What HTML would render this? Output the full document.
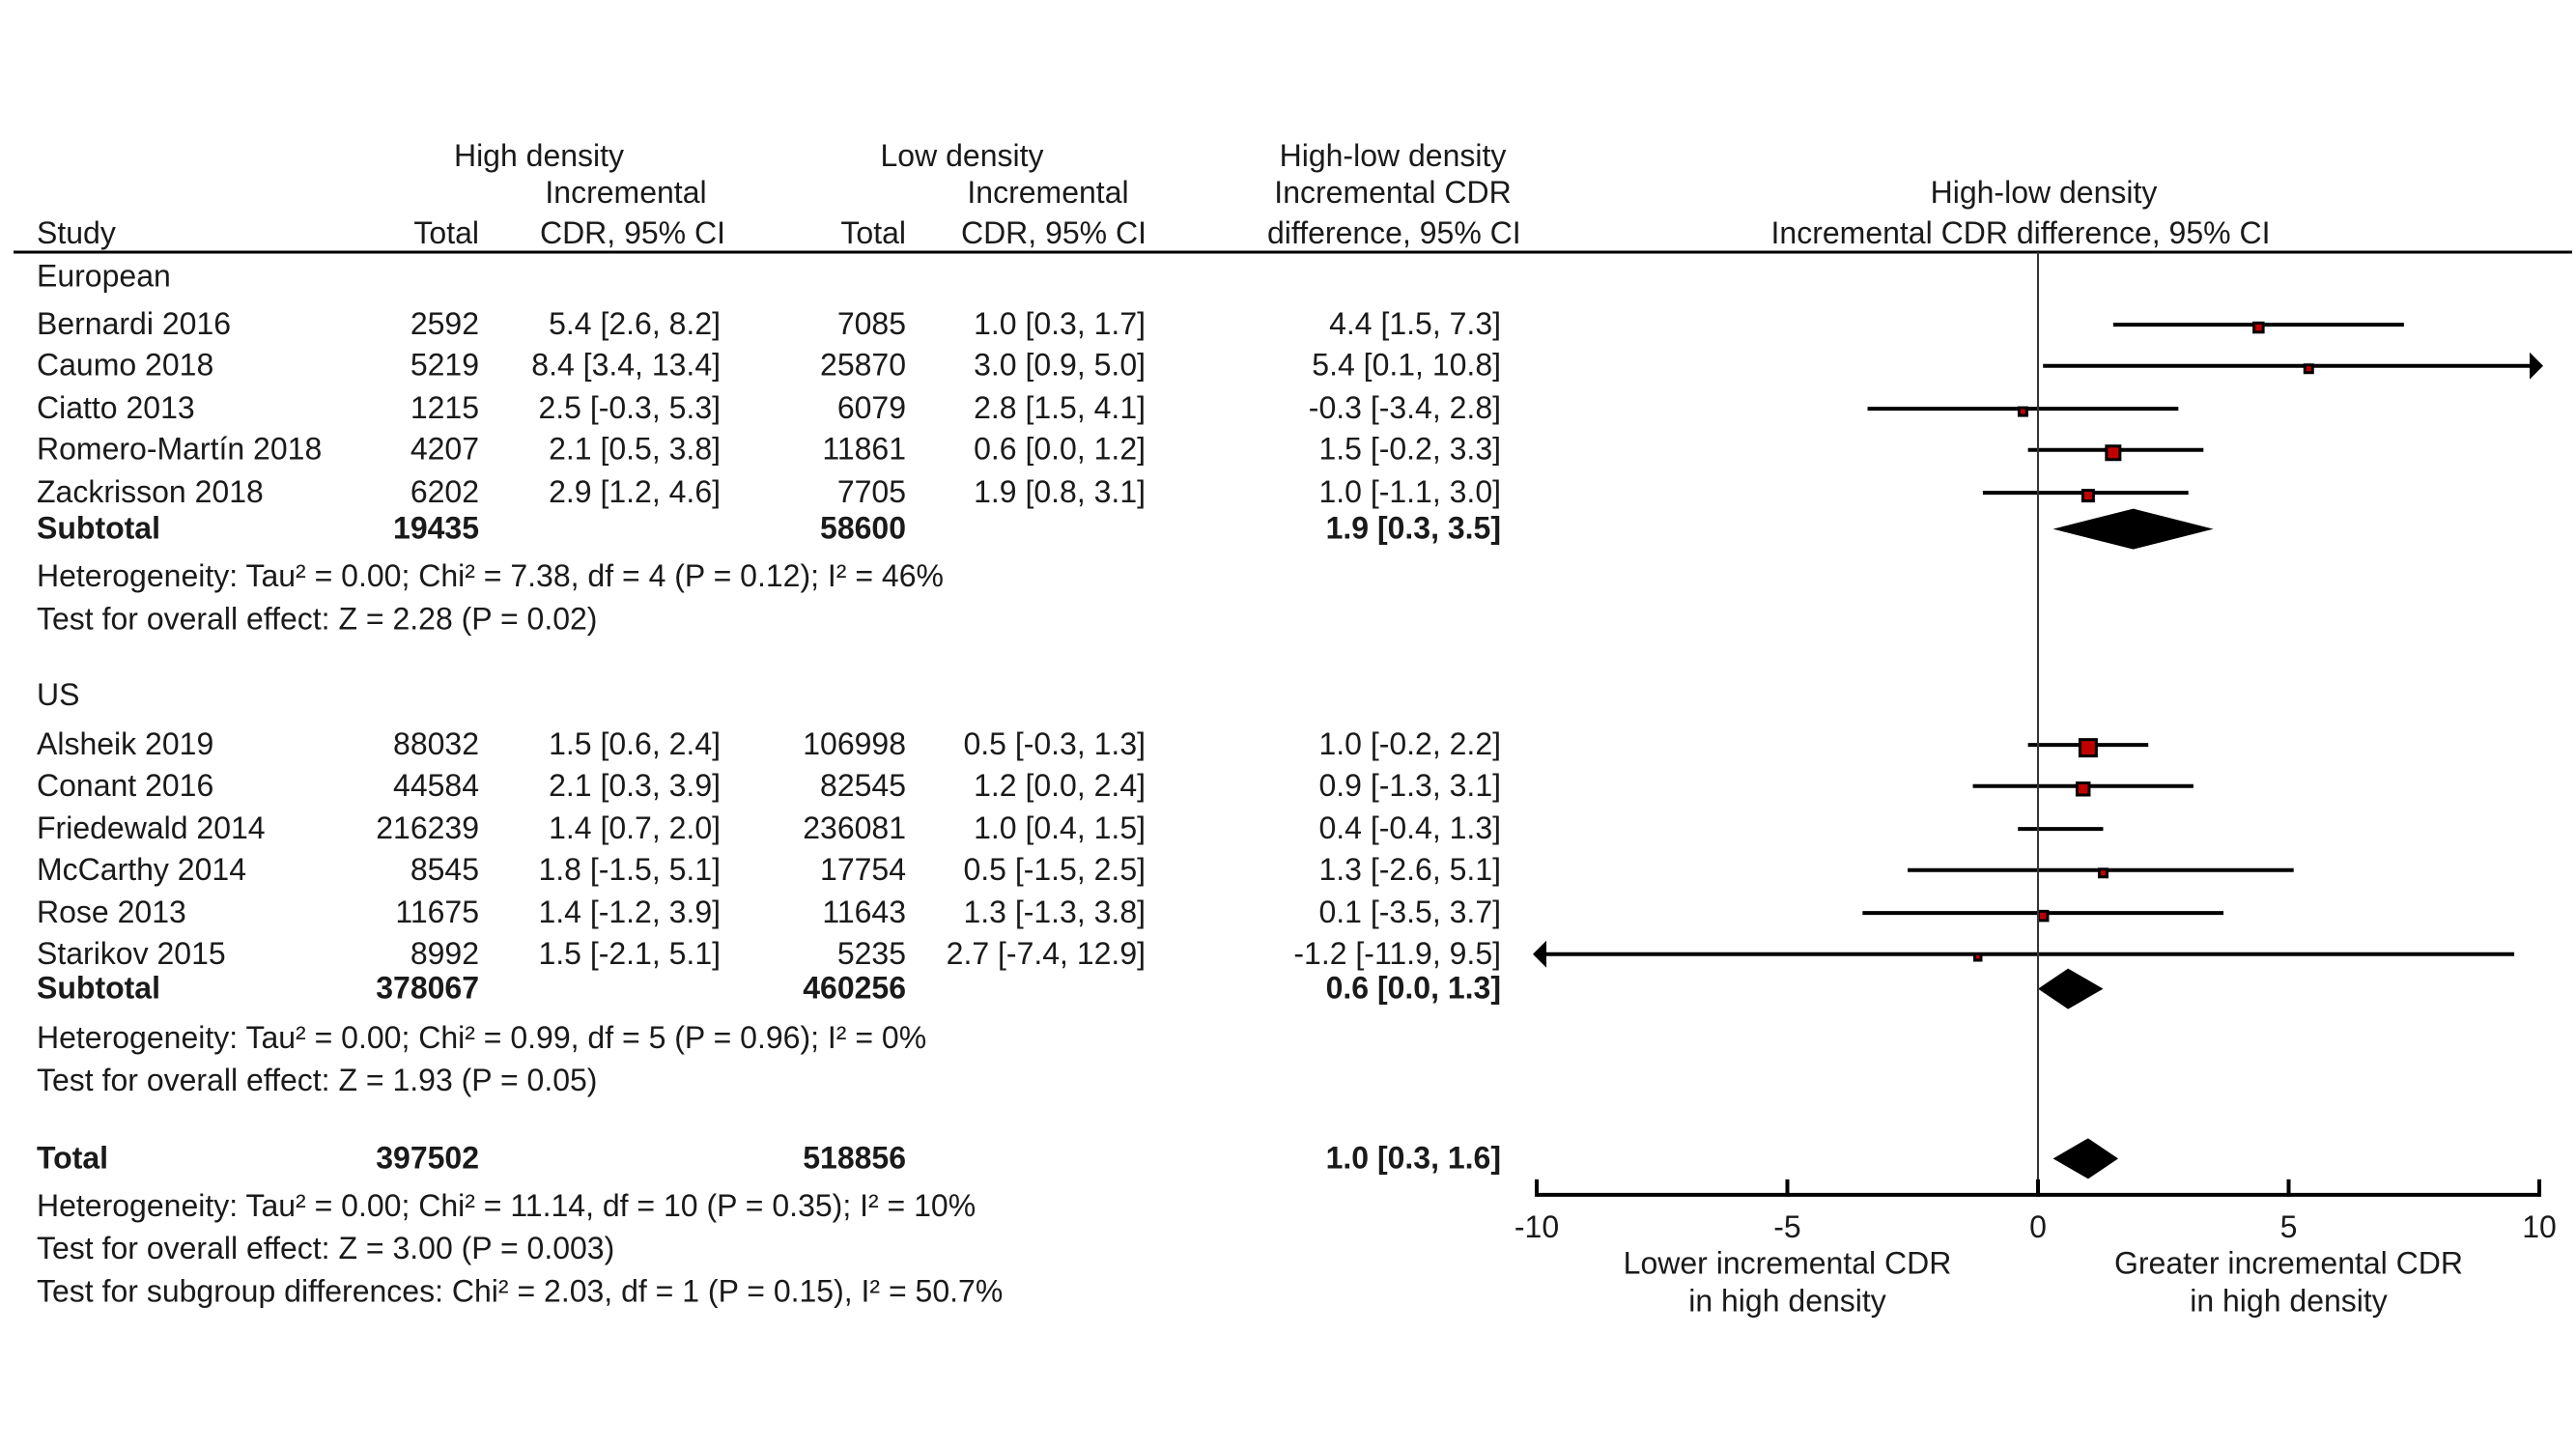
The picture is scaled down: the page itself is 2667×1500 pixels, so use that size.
<!DOCTYPE html>
<html><head><meta charset="utf-8"><style>
html,body{margin:0;padding:0;background:#fff;}
svg{display:block;}
text{font-family:"Liberation Sans",Arial,sans-serif;font-size:32px;fill:#1a1a1a;}
.b{font-weight:bold;}
</style></head><body>
<svg id="chart" width="2667" height="1500" viewBox="0 0 2667 1500" xmlns="http://www.w3.org/2000/svg">
<g>
<text x="558" y="172" text-anchor="middle">High density</text>
<text x="648" y="210" text-anchor="middle">Incremental</text>
<text x="751" y="252" text-anchor="end">CDR, 95% CI</text>
<text x="996" y="172" text-anchor="middle">Low density</text>
<text x="1085" y="210" text-anchor="middle">Incremental</text>
<text x="1187" y="252" text-anchor="end">CDR, 95% CI</text>
<text x="1442" y="172" text-anchor="middle">High-low density</text>
<text x="1442" y="210" text-anchor="middle">Incremental CDR</text>
<text x="1312" y="252">difference, 95% CI</text>
<text x="38" y="252">Study</text>
<text x="496" y="252" text-anchor="end">Total</text>
<text x="938" y="252" text-anchor="end">Total</text>
<text x="2116" y="210" text-anchor="middle">High-low density</text>
<text x="2092" y="252" text-anchor="middle">Incremental CDR difference, 95% CI</text>
</g>
<line x1="14" y1="261" x2="2663" y2="261" stroke="#000" stroke-width="3"/>
<g id="table"></g>
<g id="plot"></g>
</svg>
<script>
// Study rows data
const studies = ["Bernardi 2016","Caumo 2018","Ciatto 2013","Romero-Martín 2018","Zackrisson 2018","Alsheik 2019","Conant 2016","Friedewald 2014","McCarthy 2014","Rose 2013","Starikov 2015"];
const highTotals = ["2592","5219","1215","4207","6202","88032","44584","216239","8545","11675","8992"];
const highCdr = ["5.4 [2.6, 8.2]","8.4 [3.4, 13.4]","2.5 [-0.3, 5.3]","2.1 [0.5, 3.8]","2.9 [1.2, 4.6]","1.5 [0.6, 2.4]","2.1 [0.3, 3.9]","1.4 [0.7, 2.0]","1.8 [-1.5, 5.1]","1.4 [-1.2, 3.9]","1.5 [-2.1, 5.1]"];
const lowTotals = ["7085","25870","6079","11861","7705","106998","82545","236081","17754","11643","5235"];
const lowCdr = ["1.0 [0.3, 1.7]","3.0 [0.9, 5.0]","2.8 [1.5, 4.1]","0.6 [0.0, 1.2]","1.9 [0.8, 3.1]","0.5 [-0.3, 1.3]","1.2 [0.0, 2.4]","1.0 [0.4, 1.5]","0.5 [-1.5, 2.5]","1.3 [-1.3, 3.8]","2.7 [-7.4, 12.9]"];
const est = [4.4,5.4,-0.3,1.5,1.0,1.0,0.9,0.4,1.3,0.1,-1.2];
const lower = [1.5,0.1,-3.4,-0.2,-1.1,-0.2,-1.3,-0.4,-2.6,-3.5,-11.9];
const upper = [7.3,10.8,2.8,3.3,3.0,2.2,3.1,1.3,5.1,3.7,9.5];
const weights = [5,4,4,8,6,10,7,0,4,5,3];
// row positions (reference row index units)
const studyRows = [197,222,248,273,299,452,477,503,528,554,579];
// pooled
const pooledNames = ["Subtotal","Subtotal","Total"];
const pooledHigh = ["19435","378067","397502"];
const pooledLow = ["58600","460256","518856"];
const pooledEst = [1.9,0.6,1.0];
const pooledLower = [0.3,0.0,0.3];
const pooledUpper = [3.5,1.3,1.6];
const pooledRows = [321,600,703];
const xTicks = [-10,-5,0,5,10];

const NS="http://www.w3.org/2000/svg";
const S=1.706;
const X0=2110, PX=51.9;
function xs(v){return X0+v*PX;}
function ys(r){return r*S;}
function fmt(a,b,c){return a.toFixed(1)+" ["+b.toFixed(1)+", "+c.toFixed(1)+"]";}
const table=document.getElementById('table');
const plot=document.getElementById('plot');
function txt(parent,x,y,s,anchor,cls){
  const t=document.createElementNS(NS,'text');
  t.setAttribute('x',x);t.setAttribute('y',y);
  if(anchor)t.setAttribute('text-anchor',anchor);
  if(cls)t.setAttribute('class',cls);
  t.textContent=s;parent.appendChild(t);return t;
}
function el(parent,tag,attrs){
  const e=document.createElementNS(NS,tag);
  for(const k in attrs)e.setAttribute(k,attrs[k]);
  parent.appendChild(e);return e;
}
const notes=[["European",168],["Heterogeneity: Tau² = 0.00; Chi² = 7.38, df = 4 (P = 0.12); I² = 46%",350],["Test for overall effect: Z = 2.28 (P = 0.02)",376],["US",422],["Heterogeneity: Tau² = 0.00; Chi² = 0.99, df = 5 (P = 0.96); I² = 0%",630],["Test for overall effect: Z = 1.93 (P = 0.05)",656],["Heterogeneity: Tau² = 0.00; Chi² = 11.14, df = 10 (P = 0.35); I² = 10%",732],["Test for overall effect: Z = 3.00 (P = 0.003)",758],["Test for subgroup differences: Chi² = 2.03, df = 1 (P = 0.15), I² = 50.7%",784]];
notes.forEach(n=>{
  const t=txt(table,38,ys(n[1])+10,n[0]);
  
  
});
studies.forEach((s,i)=>{
  const y=ys(studyRows[i])+10;
  const g=el(table,'g',{});
  
  
  txt(g,38,y,s);
  txt(g,496,y,highTotals[i],'end');
  txt(g,746,y,highCdr[i],'end');
  txt(g,938,y,lowTotals[i],'end');
  txt(g,1186,y,lowCdr[i],'end');
  txt(g,1554,y,fmt(est[i],lower[i],upper[i]),'end');
  const yc=ys(studyRows[i]);
  const lo=Math.max(lower[i],-10), hi=Math.min(upper[i],10);
  const ln=el(plot,'line',{x1:xs(lo),x2:xs(hi),y1:yc,y2:yc,stroke:'#000','stroke-width':4});
  
  
  if(upper[i]>10){
    const a=el(plot,'polygon',{points:`${xs(10)+4},${yc} ${xs(10)-10},${yc-14} ${xs(10)-10},${yc+14}`,fill:'#000'});
    
    
  }
  if(lower[i]<-10){
    const a=el(plot,'polygon',{points:`${xs(-10)-4},${yc} ${xs(-10)+10},${yc-14} ${xs(-10)+10},${yc+14}`,fill:'#000'});
    
    
  }
  if(weights[i]>0){
    const w=weights[i]*1.5+2;
    const sq=el(plot,'rect',{x:xs(est[i])-w/2,y:yc-w/2+3,width:w,height:w,fill:'#c00000',stroke:'#000','stroke-width':3});
    
    
  }
});
pooledNames.forEach((s,i)=>{
  const y=ys(pooledRows[i])+10;
  const g=el(table,'g',{});
  
  
  txt(g,38,y,s,null,'b');
  txt(g,496,y,pooledHigh[i],'end','b');
  txt(g,938,y,pooledLow[i],'end','b');
  txt(g,1554,y,fmt(pooledEst[i],pooledLower[i],pooledUpper[i]),'end','b');
  const yc=ys(pooledRows[i]);
  const h=21;
  const d=el(plot,'polygon',{points:`${xs(pooledLower[i])},${yc} ${xs(pooledEst[i])},${yc-h} ${xs(pooledUpper[i])},${yc} ${xs(pooledEst[i])},${yc+h}`,fill:'#000'});
  
  
});
const zl=el(plot,'line',{x1:xs(0),x2:xs(0),y1:261,y2:ys(725),stroke:'#333','stroke-width':2});


const ax=el(plot,'line',{x1:xs(-10),x2:xs(10),y1:ys(725),y2:ys(725),stroke:'#000','stroke-width':4});


xTicks.forEach(v=>{
  const tk=el(plot,'line',{x1:xs(v),x2:xs(v),y1:ys(725)-16,y2:ys(725)+2,stroke:'#000','stroke-width':4});
  
  
  const t=txt(plot,xs(v),ys(745)+10,String(v),'middle');
  
  
});
[["Lower incremental CDR",-5,767],["in high density",-5,790],["Greater incremental CDR",5,767],["in high density",5,790]].forEach(l=>{
  const t=txt(plot,xs(l[1]),ys(l[2])+10,l[0],'middle');
  
  
});
</script>
</body></html>
